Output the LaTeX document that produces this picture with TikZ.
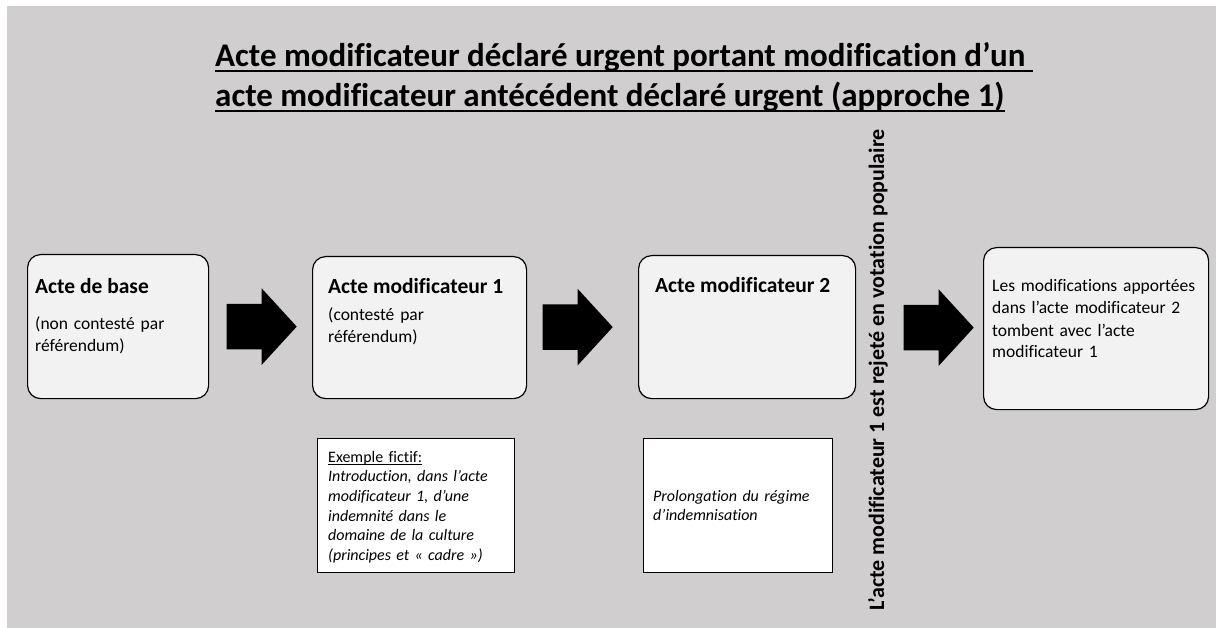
\documentclass[tikz,border=0pt]{standalone}
\usepackage{fontspec}
\setmainfont{Carlito}[Ligatures={NoCommon}]
\usetikzlibrary{calc}
\usetikzlibrary{shapes.arrows}
\definecolor{fond}{RGB}{208,206,206}
\definecolor{boite}{RGB}{242,242,242}
% soulignement a hauteur fixe : #1 = distance sous la ligne de base, #2 = epaisseur
\newcommand\souligne[3]{\setbox0\hbox{#3}\rlap{\vrule height -#1 depth \dimexpr#1+#2\relax width \wd0}\box0}
% texte courant des actes, espaces un peu plus larges
\newcommand\corpsfont{\fontsize{17.5}{22}\selectfont\spaceskip 0.36em\relax}
\tikzset{acte/.style={draw=black,fill=boite,line width=1.2,rounded corners=13,anchor=north west,inner sep=0}}
\tikzset{exemple/.style={draw=black,fill=white,line width=1.4,anchor=north west,inner sep=0}}
\tikzset{fleche/.style={single arrow,fill=black,anchor=tip,inner xsep=0,inner ysep=22.5,minimum height=70,single arrow head extend=15.5,single arrow tip angle=95}}
\tikzset{titre/.style={font=\fontsize{33}{40}\selectfont\bfseries,anchor=base west,inner sep=0}}
\tikzset{tete/.style={font=\fontsize{21.5}{24}\selectfont\bfseries,anchor=base west,inner sep=0}}
\tikzset{corps/.style={font=\corpsfont,anchor=base west,inner sep=0,text width=#1,align=left}}
\tikzset{petit/.style={font=\fontsize{16}{19.7}\selectfont,anchor=base west,inner sep=0,text width=#1,align=left}}

\begin{document}
\begin{tikzpicture}[x=1pt,y=-1pt]
      \useasboundingbox (0,0) rectangle (1218,628);
      \fill[white] (0,0) rectangle (1218,628);
      \fill[fond] (7,6) rectangle (1216,628);

      % titre
      \node[titre] (titre1) at (215,67)
        {\souligne{3.5pt}{2pt}{Acte modificateur déclaré urgent portant modification d’un\ }};
      \node[titre] (titre2) at (215,107)
        {\souligne{3.5pt}{2pt}{acte modificateur antécédent déclaré urgent (approche 1)}};

      % les actes
      \node[acte,minimum width=181,minimum height=144] (base) at (27,254) {};
      \node[acte,minimum width=214,minimum height=142] (mod1) at (312,256) {};
      \node[acte,minimum width=217,minimum height=143] (mod2) at (638,255) {};
      \node[acte,minimum width=225,minimum height=162] (chute) at (983,247) {};

      \node[tete] (base-t) at ($(base.north west)+(8,40)$) {Acte de base};
      \node[corps=175] (base-c) at ($(base.north west)+(8,75)$) {(non contesté par\\référendum)};
      \node[tete] (mod1-t) at ($(mod1.north west)+(16,38)$) {Acte modificateur 1};
      \node[corps=195] (mod1-c) at ($(mod1.north west)+(16,64)$) {(contesté par\\référendum)};
      \node[tete] (mod2-t) at ($(mod2.north west)+(17,38)$) {Acte modificateur 2};
      \node[corps=240] (chute-c) at ($(chute.north west)+(9,45)$)
        {Les modifications apportées\\dans l’acte modificateur 2\\tombent avec l’acte\\modificateur 1};

      % fleches
      \node[fleche] (f1) at ($(mod1.west)+(-15,-1)$) {};
      \node[fleche] (f2) at ($(mod2.west)+(-25,0)$) {};
      \node[fleche] (f3) at ($(chute.west)+(-9,-1)$) {};

      \node[rotate=90,anchor=base,inner sep=0,font=\fontsize{22}{24}\selectfont\bfseries] (rejet) at (884,370)
        {L’acte modificateur 1 est rejeté en votation populaire};

      % exemples
      \node[exemple,minimum width=197,minimum height=134] (ex1) at (317,438) {};
      \node[exemple,minimum width=189,minimum height=134] (ex2) at (643,438) {};
      \node[petit=190] (ex1-c) at ($(ex1.north west)+(11,24)$)
        {\souligne{2pt}{1pt}{Exemple fictif:}\\{\itshape Introduction, dans l’acte\\modificateur 1, d’une\\indemnité dans le\\domaine de la culture\\(principes et « cadre »)}};
      \node[petit=185] (ex2-c) at ($(ex2.north west)+(10,63)$)
        {\itshape Prolongation du régime\\d’indemnisation};
\end{tikzpicture}
\end{document}
